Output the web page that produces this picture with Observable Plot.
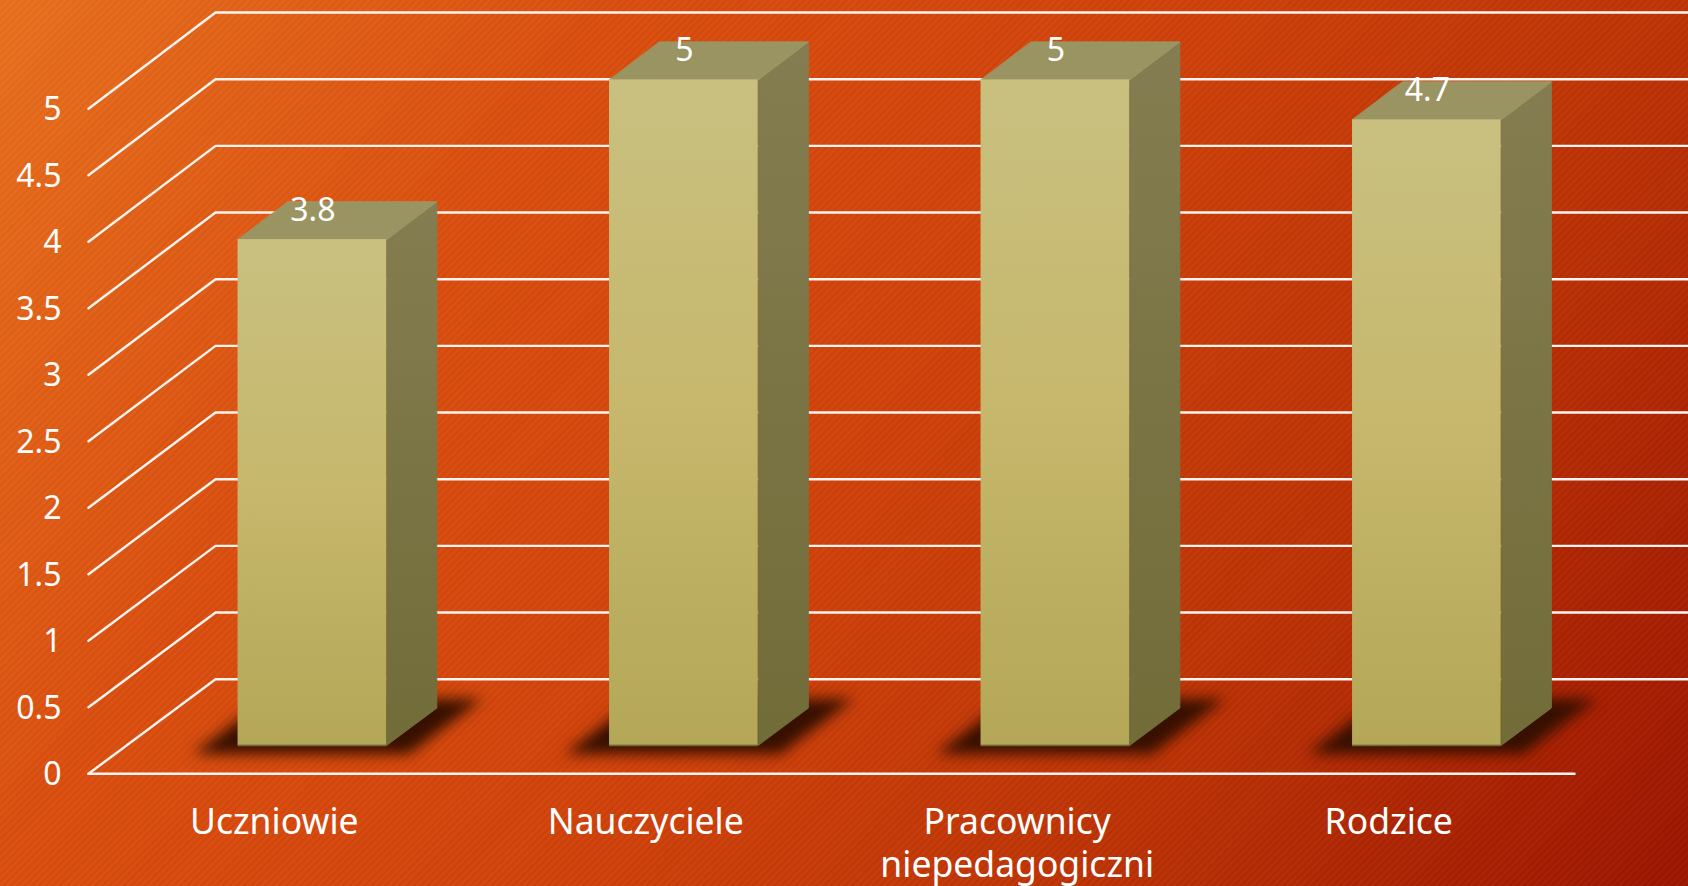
<!DOCTYPE html>
<html><head><meta charset="utf-8">
<script src="https://cdn.jsdelivr.net/npm/d3@7"></script>
<script src="https://cdn.jsdelivr.net/npm/@observablehq/plot@0.6"></script>
<style>
html,body{margin:0;padding:0;width:1688px;height:886px;overflow:hidden}
body{background:
 repeating-linear-gradient(135deg,rgba(255,255,255,.022) 0 2.5px,rgba(0,0,0,.022) 2.5px 5px),
 linear-gradient(125deg,#e8701e 0%,#da4e0e 27%,#d1420a 50%,#bd3305 73%,#9c1500 100%);}
svg{display:block}
</style></head><body>
<script>
const categories = ["Uczniowie", "Nauczyciele", "Pracownicy\nniepedagogiczni", "Rodzice"];
const values = [3.8, 5, 5, 4.7];
const yTicks = [0, 0.5, 1, 1.5, 2, 2.5, 3, 3.5, 4, 4.5, 5];

// Oblique projection of the 3D chart box: a full unit of depth moves a point
// this far along x (category units) and y (value units), with a slight growth of the value unit.
const depthX = 0.3419, depthY = 0.7113, depthGrow = 0.0025;
const px = (x, d) => x + d * depthX;
const py = (v, d) => v * (1 + d * depthGrow) + d * depthY;
const front = 0.3, back = 0.695, half = 0.2;

const gridPts = yTicks.flatMap(v => [
  {v, x: px(0, 0), y: py(v, 0)},
  {v, x: px(0, 1), y: py(v, 1)},
  {v, x: px(4, 1), y: py(v, 1)}
]);
const floorFront = [{x: 0, y: 0}, {x: 4, y: 0}];
const bars = values.map((v, i) => ({v, i, c: i + 0.5}));
const quad = (b, key, pts) => pts.map(([x, d, v]) => ({key: key + b.i, x: px(x, d), y: py(v, d)}));
const tops = bars.flatMap(b => quad(b, "t", [[b.c - half, front, b.v], [b.c + half, front, b.v], [b.c + half, back, b.v], [b.c - half, back, b.v]]));
const sides = bars.flatMap(b => quad(b, "s", [[b.c + half, front, b.v], [b.c + half, back, b.v], [b.c + half, back, 0], [b.c + half, front, 0]]));
const spread = 0.09;
const shadows = bars.flatMap(b => quad(b, "h", [[b.c - half - spread, 0.21, 0], [b.c + half + spread, 0.21, 0], [b.c + half + spread, 0.79, 0], [b.c - half - spread, 0.79, 0]]));

const defs = () => {
  const d = d3.create("svg:defs");
  const grad = (id, stops) => {
    const g = d.append("linearGradient").attr("id", id).attr("x1", 0).attr("y1", 0).attr("x2", 0).attr("y2", 1);
    stops.forEach(([o, c]) => g.append("stop").attr("offset", o).attr("stop-color", c));
  };
  grad("gFront", [[0, "#c9c080"], [0.5, "#c6b76c"], [1, "#b4a757"]]);
  grad("gSide", [[0, "#837d51"], [1, "#726c39"]]);
  return d.node();
};

const fontFamily = '"Noto Sans", sans-serif';
const chart = Plot.plot({
  width: 1688, height: 886,
  marginLeft: 88, marginRight: 114, marginTop: 108.3, marginBottom: 112.7,
  style: {background: "transparent", fontFamily},
  x: {type: "linear", domain: [0, 4], axis: null},
  y: {type: "linear", domain: [0, 5], axis: null},
  marks: [
    defs,
    Plot.line(gridPts, {x: "x", y: "y", z: "v", stroke: "#fbf4f0", strokeWidth: 2.4, strokeLinejoin: "miter"}),
    Plot.line(floorFront, {x: "x", y: "y", stroke: "#fbf4f0", strokeWidth: 2.4}),
    Plot.line(shadows, {x: "x", y: "y", z: "key", fill: "#361000", stroke: "none", curve: "linear-closed", imageFilter: "blur(7px)"}),
    Plot.line(sides, {x: "x", y: "y", z: "key", fill: "url(#gSide)", stroke: "url(#gSide)", strokeWidth: 1, curve: "linear-closed"}),
    Plot.line(tops, {x: "x", y: "y", z: "key", fill: "#9a9462", stroke: "#9d9865", strokeWidth: 1, curve: "linear-closed"}),
    Plot.rect(bars, {
      x1: b => px(b.c - half, front), x2: b => px(b.c + half, front),
      y1: () => py(0, front), y2: b => py(b.v, front),
      fill: "url(#gFront)"
    }),
    Plot.ruleY(bars, {
      x1: b => px(b.c - half, front), x2: b => px(b.c + half, front),
      y: () => py(0, front), stroke: "#6f6a35", strokeWidth: 1.5
    }),
    Plot.text(bars, {
      x: b => px(b.c, front), y: b => py(b.v, front), dy: -29, dx: 0.5,
      text: b => String(b.v), fill: "white", fontSize: 32
    }),
    Plot.axisY({ticks: yTicks, tickSize: 0, tickPadding: 27, tickFormat: d => String(d), fill: "white", color: "white", fontSize: 32, dy: 1, label: null}),
    Plot.axisX({ticks: categories.map((_, i) => i + 0.5), tickSize: 0, tickPadding: 29, tickFormat: d => categories[d - 0.5], fill: "white", color: "white", fontSize: 35.5, lineHeight: 1.22, label: null})
  ]
});
document.body.appendChild(chart);
</script>
</body></html>
